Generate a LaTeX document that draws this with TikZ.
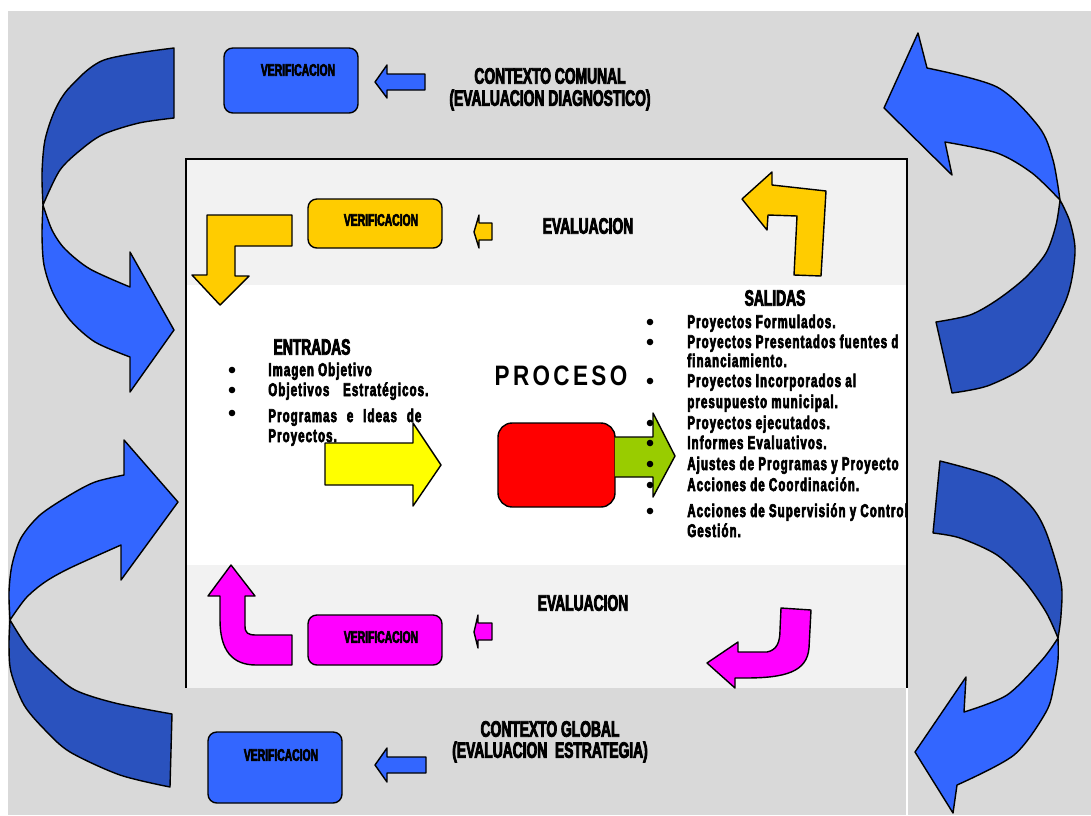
\documentclass[tikz,border=0pt]{standalone}
\usepackage{fontspec}
\setmainfont{Liberation Sans}
\newfontfamily\impactfont[FakeStretch=0.62,FakeBold=3.5]{Liberation Sans}
\newfontfamily\listfont[FakeStretch=0.62,FakeBold=3.5,LetterSpace=6]{Liberation Sans}
\newfontfamily\procfont[FakeStretch=0.8,LetterSpace=12]{Liberation Sans}

\definecolor{grisfondo}{HTML}{D9D9D9}
\definecolor{grisclaro}{HTML}{F2F2F2}
\definecolor{azul}{HTML}{3366FF}
\definecolor{azuloscuro}{HTML}{2A52BE}
\definecolor{amarillo}{HTML}{FFCC00}
\definecolor{amarillopuro}{HTML}{FFFF00}
\definecolor{rojo}{HTML}{FF0000}
\definecolor{verde}{HTML}{99CC00}
\definecolor{magenta}{HTML}{FF00FF}

\begin{document}
\begin{tikzpicture}[x=0.02cm, y=-0.02cm,
    flecha/.style={draw=black, line width=0.8pt, line join=round},
    cajaver/.style={draw=black, line width=0.8pt, rounded corners=5pt, inner sep=0pt, outer sep=0pt},
    textover/.style={font=\impactfont\bfseries\fontsize{9.5}{11}\selectfont, inner sep=0pt},
    titulo/.style={font=\impactfont\bfseries\fontsize{12.7}{14}\selectfont, inner sep=0pt},
    lista/.style={font=\listfont\bfseries\fontsize{10.5}{11}\selectfont, anchor=base west, inner sep=0pt},
    punto/.style={fill=black, radius=3.3}]
    \useasboundingbox (0,0) rectangle (1091,815);

    % Background
    \fill[grisfondo] (8,11) rectangle (1091,815);
    \fill[grisclaro] (186,159) rectangle (907,285);
    \fill[white] (186,285) rectangle (907,565);
    \fill[grisclaro] (186,565) rectangle (907,688);
    \draw[line width=0.6pt] (186,688) -- (186,159) -- (907,159) -- (907,688);
    \draw[white, line width=0.6pt] (907,688) -- (907,815);

    % Outer curved arrows
    \draw[flecha, fill=azuloscuro] plot[smooth] coordinates {(174,48) (104,60) (70,87) (55,110) (45,140) (42,173) (43,205)}
        -- plot[smooth] coordinates {(43,205) (60,170) (83,148) (104,134) (139,123) (174,118)} -- cycle;
    \draw[flecha, fill=azul] plot[smooth] coordinates {(43,205) (52,230) (65,249) (90,269) (130,287)}
        -- (130,252) -- (174,330) -- (130,392) -- (130,357)
        -- plot[smooth] coordinates {(130,357) (95,342) (70,320) (53,293) (44,265) (42,235) (43,205)} -- cycle;

    \draw[flecha, fill=azuloscuro] plot[smooth] coordinates {(10,620) (9,645) (11,672) (24,705) (45,730) (70,752) (120,775) (170,787)}
        -- (172,714) -- plot[smooth] coordinates {(172,714) (115,703) (75,690) (50,670) (28,648) (10,620)} -- cycle;
    \draw[flecha, fill=azul] plot[smooth] coordinates {(124,475) (95,482) (70,495) (40,515) (21,538) (12,565) (9,592) (10,620)}
        -- plot[smooth] coordinates {(10,620) (26,598) (45,582) (70,568) (121,545)}
        -- (121,580) -- (178,502) -- (124,440) -- cycle;

    \draw[flecha, fill=azuloscuro] plot[smooth] coordinates {(1060,200) (1070,222) (1075,253) (1066,300) (1032,360) (990,385) (952,393)}
        -- (936,322) -- plot[smooth] coordinates {(936,322) (970,315) (997,300) (1025,278) (1046,253) (1056,225) (1060,200)} -- cycle;
    \draw[flecha, fill=azul] (918,33) -- (884,108) -- (952,175) -- (945,142)
        -- plot[smooth] coordinates {(945,142) (997,153) (1032,173) (1060,200)}
        -- plot[smooth] coordinates {(1060,200) (1053,160) (1039,127) (997,87) (927,68)} -- cycle;

    \draw[flecha, fill=azuloscuro] plot[smooth] coordinates {(940,461) (997,478) (1030,505) (1046,532) (1061,582) (1061,615) (1058,638)}
        -- plot[smooth] coordinates {(1058,638) (1046,612) (1025,582) (997,555) (960,538) (933,533)} -- cycle;
    \draw[flecha, fill=azul] plot[smooth] coordinates {(1058,638) (1058,660) (1054,685) (1046,712) (1014,755) (957,785)}
        -- (953,813) -- (915,752) -- (966,677) -- (964,712)
        -- plot[smooth] coordinates {(964,712) (1007,695) (1042,660) (1058,638)} -- cycle;

    % Context rows
    \node[cajaver, fill=azul, minimum width=2.68cm, minimum height=1.3cm] (verComunal) at (291,80.5) {};
    \node[textover] (txtComunal) at (298,70) {VERIFICACION};
    \draw[flecha, fill=azul] (375,82) -- (387,65) -- (387,74) -- (425,74) -- (425,90) -- (387,90) -- (387,98) -- cycle;
    \node[titulo] (comunal) at (550,76) {CONTEXTO COMUNAL};
    \node[titulo] (diagnostico) at (550,100) {(EVALUACION DIAGNOSTICO)};

    \node[cajaver, fill=azul, minimum width=2.68cm, minimum height=1.42cm] (verGlobal) at (275,767.5) {};
    \node[textover] (txtGlobal) at (281,755) {VERIFICACION};
    \draw[flecha, fill=azul] (375,765) -- (387,748) -- (387,757) -- (426,757) -- (426,773) -- (387,773) -- (387,782) -- cycle;
    \node[titulo] (global) at (550,729) {CONTEXTO GLOBAL};
    \node[titulo] (estrategia) at (550,752) {(EVALUACION\ \ ESTRATEGIA)};

    % Evaluation bands
    \draw[flecha, fill=amarillo] (292,215) -- (292,246) -- (235,246) -- (235,276) -- (249,276) -- (220,305)
        -- (192,275) -- (207,275) -- (207,215) -- cycle;
    \node[cajaver, fill=amarillo, minimum width=2.68cm, minimum height=0.98cm] (verArriba) at (375,223.5) {};
    \node[textover] (txtArriba) at (381,220) {VERIFICACION};
    \draw[flecha, fill=amarillo] (474,232) -- (479,215) -- (479,223) -- (492,223) -- (492,240) -- (479,240) -- (479,248) -- cycle;
    \node[titulo] (evalArriba) at (588,226) {EVALUACION};
    \draw[flecha, fill=amarillo] (826,191) -- (821,276) -- (794,275) -- (797,216) -- (768,215) -- (767,230)
        -- (742,199) -- (772,172) -- (772,185) -- cycle;

    \draw[flecha, fill=magenta] (231,565) -- (255,596) -- (245,596) -- (245,626) .. controls (245,633) and (248,635) .. (256,635)
        -- (292,635) -- (292,665) -- (256,665) .. controls (232,665) and (220,650) .. (220,620) -- (220,596) -- (208,596) -- cycle;
    \node[cajaver, fill=magenta, minimum width=2.68cm, minimum height=1.0cm] (verAbajo) at (375,640) {};
    \node[textover] (txtAbajo) at (381,637) {VERIFICACION};
    \draw[flecha, fill=magenta] (474,632) -- (478,615) -- (478,623) -- (492,623) -- (492,640) -- (478,640) -- (478,648) -- cycle;
    \node[titulo] (evalAbajo) at (583,603) {EVALUACION};
    \draw[flecha, fill=magenta] (781,608) -- (811,610) -- (809,648) .. controls (807,672) and (785,678) .. (745,678)
        -- (735,678) -- (735,688) -- (707,663) -- (738,642) -- (738,652) -- (767,652)
        .. controls (777,650) and (780,642) .. (780,630) -- cycle;

    % Process
    \node[titulo] (entradas) at (312,347) {ENTRADAS};
    \fill[punto] (232,370) circle;
    \node[lista] (e1) at (268,376) {Imagen Objetivo};
    \fill[punto] (232,390) circle;
    \node[lista] (e2) at (268,396) {\makebox[3.2cm][s]{Objetivos Estratégicos.}};
    \fill[punto] (232,413) circle;
    \node[lista] (e3) at (268,422) {\makebox[3.06cm][s]{Programas e Ideas de}};
    \node[lista] (e4) at (268,442) {Proyectos.};
    \draw[flecha, fill=amarillopuro] (325,443) -- (413,443) -- (413,423) -- (441,465) -- (413,506) -- (413,485) -- (325,485) -- cycle;

    \node[font=\procfont\bfseries\fontsize{16}{18}\selectfont, inner sep=0pt] (proceso) at (561,376) {PROCESO};
    \node[cajaver, fill=rojo, rounded corners=8pt, minimum width=2.34cm, minimum height=1.68cm] (caja) at (556.5,465) {};
    \draw[flecha, fill=verde] (caja.east |- 0,437) -- (653,437) -- (653,413) -- (675,456) -- (653,497) -- (653,477) -- (caja.east |- 0,477);

    \node[titulo] (salidas) at (775,298) {SALIDAS};
    \begin{scope}
        \clip (186,159) rectangle (907,688);
        \fill[punto] (650,322) circle;
        \node[lista] (s1) at (687,328) {Proyectos Formulados.};
        \fill[punto] (650,342) circle;
        \node[lista] (s2) at (687,348) {Proyectos Presentados fuentes d};
        \node[lista] (s3) at (687,367) {financiamiento.};
        \fill[punto] (650,381) circle;
        \node[lista] (s4) at (687,387) {Proyectos Incorporados al};
        \node[lista] (s5) at (687,408) {presupuesto municipal.};
        \fill[punto] (650,423) circle;
        \node[lista] (s6) at (687,429) {Proyectos ejecutados.};
        \fill[punto] (650,443) circle;
        \node[lista] (s7) at (687,449) {Informes Evaluativos.};
        \fill[punto] (650,464) circle;
        \node[lista] (s8) at (687,470) {Ajustes de Programas y Proyecto};
        \fill[punto] (650,485) circle;
        \node[lista] (s9) at (687,491) {Acciones de Coordinación.};
        \fill[punto] (650,511) circle;
        \node[lista] (s10) at (687,517) {Acciones de Supervisión y Control};
        \node[lista] (s11) at (687,537) {Gestión.};
    \end{scope}
\end{tikzpicture}
\end{document}
